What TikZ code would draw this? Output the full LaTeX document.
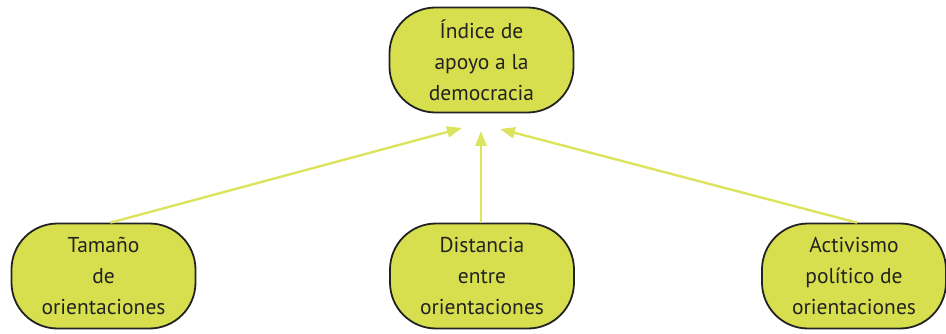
\documentclass[tikz,border=0pt]{standalone}
\usepackage{fontspec}
\setmainfont{PT Sans}
\usetikzlibrary{arrows.meta}
\definecolor{boxfill}{HTML}{D8DF4E}
\definecolor{arrcol}{HTML}{DCE35C}
\definecolor{boxline}{HTML}{222222}
\tikzset{
  box/.style={draw=boxline, line width=1.8pt, fill=boxfill, rounded corners=46pt,
    minimum width=184pt, minimum height=105pt, align=center, inner sep=0pt,
    font=\fontsize{21.5}{31}\selectfont, text=boxline},
  arr/.style={draw=arrcol, line width=2.4pt, -{Triangle[length=15pt,width=11pt]}}
}
\begin{document}
\begin{tikzpicture}[x=1pt,y=-1pt]
\useasboundingbox (0,0) rectangle (946,334);
\node[box] (top) at (481.5,60) {Índice de\\apoyo a la\\democracia};
\node[box] (bl) at (103.5,276) {Tamaño\\de\\orientaciones};
\node[box] (bm) at (482,276) {Distancia\\entre\\orientaciones};
\node[box] (br) at (854,276) {Activismo\\político de\\orientaciones};
\coordinate (tl) at (462,128);
\coordinate (tm) at (481,131);
\coordinate (tr) at (500,129);
\draw[arr] ([xshift=7pt]bl.north) -- (tl);
\draw[arr] (bm.north -| tm) -- (tm);
\draw[arr] ([xshift=3pt]br.north) -- (tr);
\end{tikzpicture}
\end{document}
